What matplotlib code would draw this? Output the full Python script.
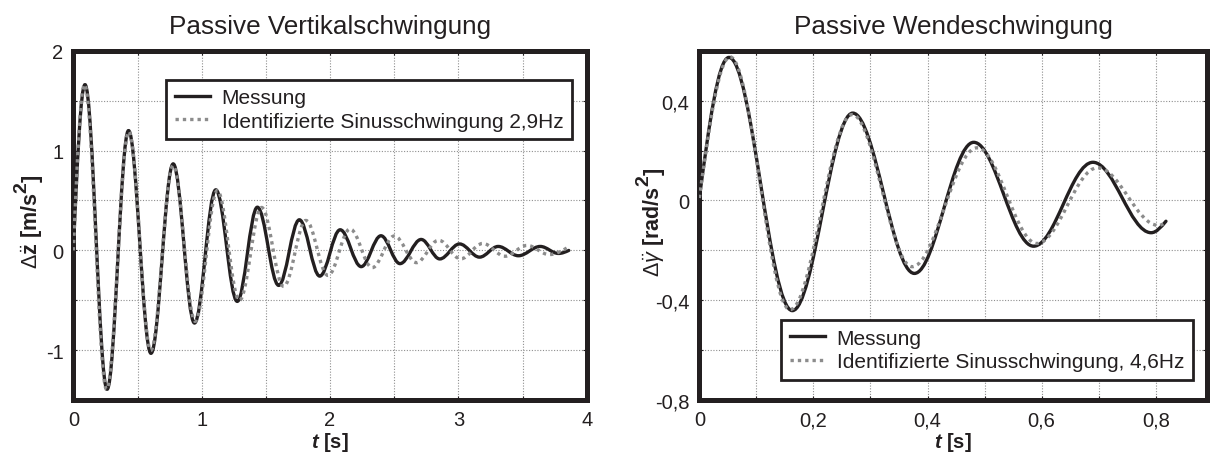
import matplotlib
matplotlib.use("Agg")
import matplotlib.pyplot as plt
from matplotlib.path import Path
from matplotlib.patches import PathPatch
from matplotlib.lines import Line2D
from matplotlib.text import Annotation
from matplotlib.ticker import MultipleLocator, FixedLocator, FuncFormatter

plt.rcParams['font.family'] = ['Liberation Sans', 'DejaVu Sans']
plt.rcParams['mathtext.fontset'] = 'custom'
plt.rcParams['mathtext.rm'] = 'Liberation Sans'
plt.rcParams['mathtext.it'] = 'Liberation Sans:italic'
plt.rcParams['mathtext.bf'] = 'Liberation Sans:bold'
plt.rcParams['mathtext.bfit'] = 'Liberation Sans:bold:italic'

INK = '#231f20'
DOT = '#8c8c8c'

# --- Passive Vertikalschwingung: turning points (t [s], value [m/s^2]) ---
vert_meas_t = [0.0, 0.091, 0.263, 0.430, 0.605, 0.778, 0.944, 1.110, 1.277, 1.434,
               1.600, 1.761, 1.920, 2.079, 2.243, 2.397, 2.545, 2.710, 2.855, 3.009,
               3.165, 3.310, 3.468, 3.638, 3.780, 3.860]
vert_meas_y = [0.0, 1.66, -1.39, 1.20, -1.03, 0.867, -0.727, 0.607, -0.51, 0.433,
               -0.35, 0.307, -0.257, 0.207, -0.162, 0.147, -0.132, 0.11, -0.085, 0.065,
               -0.067, 0.04, -0.053, 0.04, -0.03, 0.0]
vert_fit_t = [0.0, 0.088, 0.259, 0.432, 0.604, 0.777, 0.949, 1.122, 1.294, 1.467,
              1.639, 1.812, 1.984, 2.156, 2.329, 2.501, 2.673, 2.846, 3.018, 3.190,
              3.363, 3.535, 3.707, 3.858]
vert_fit_y = [0.0, 1.66, -1.39, 1.19, -1.0, 0.85, -0.71, 0.6, -0.5, 0.43,
              -0.36, 0.30, -0.25, 0.215, -0.172, 0.145, -0.122, 0.102, -0.084, 0.07,
              -0.058, 0.05, -0.041, 0.035]

# --- Passive Wendeschwingung: turning points (t [s], value [rad/s^2]) ---
wende_meas_t = [0.0, 0.052, 0.163, 0.269, 0.377, 0.481, 0.586, 0.690, 0.792, 0.818]
wende_meas_y = [0.01, 0.573, -0.441, 0.35, -0.292, 0.233, -0.183, 0.153, -0.129, -0.083]
wende_fit_t = [0.0, 0.054, 0.159, 0.268, 0.373, 0.487, 0.592, 0.698, 0.805, 0.816]
wende_fit_y = [0.01, 0.575, -0.437, 0.344, -0.265, 0.211, -0.172, 0.131, -0.1, -0.09]

vert_xticks = [0, 1, 2, 3, 4]
vert_yticks = [-1, 0, 1, 2]
wende_xticks = [0, 0.2, 0.4, 0.6, 0.8]
wende_yticks = [-0.8, -0.4, 0, 0.4]

label_meas = 'Messung'
label_vert_fit = 'Identifizierte Sinusschwingung 2,9Hz'
label_wende_fit = 'Identifizierte Sinusschwingung, 4,6Hz'


def swing_path(ts, ys):
    """Smooth path through turning points (flat tangent at every interior node)."""
    n = len(ts)
    slopes = [0.0] * n
    slopes[0] = (ys[1] - ys[0]) * 3.1416 / (2 * (ts[1] - ts[0]))
    slopes[-1] = 1.5 * (ys[-1] - ys[-2]) / (ts[-1] - ts[-2])
    verts = [(ts[0], ys[0])]
    codes = [Path.MOVETO]
    for i in range(n - 1):
        t0, y0, t1, y1 = ts[i], ys[i], ts[i + 1], ys[i + 1]
        dt = t1 - t0
        h0 = dt * (0.363 if slopes[i] == 0 else 1 / 3)
        h1 = dt * (0.363 if slopes[i + 1] == 0 else 1 / 3)
        verts += [(t0 + h0, y0 + slopes[i] * h0),
                  (t1 - h1, y1 - slopes[i + 1] * h1),
                  (t1, y1)]
        codes += [Path.CURVE4] * 3
    return Path(verts, codes)


def comma(v, pos=None):
    if abs(v) < 1e-9:
        return '0'
    return ('%g' % v).replace('.', ',')


fig = plt.figure(figsize=(12.12, 4.56), dpi=100)
ax1 = fig.add_axes([0.0605, 0.120, 0.4236, 0.7667])
ax2 = fig.add_axes([0.5770, 0.120, 0.4189, 0.7667])


def style(ax, xlim, ylim, xt, yt, xminor, yminor):
    ax.set_xlim(*xlim)
    ax.set_ylim(*ylim)
    ax.xaxis.set_major_locator(FixedLocator(xt))
    ax.yaxis.set_major_locator(FixedLocator(yt))
    ax.xaxis.set_minor_locator(MultipleLocator(xminor))
    ax.yaxis.set_minor_locator(MultipleLocator(yminor))
    ax.xaxis.set_major_formatter(FuncFormatter(comma))
    ax.yaxis.set_major_formatter(FuncFormatter(comma))
    ax.grid(True, which='both', linestyle=(0, (1, 1.5)), color='#8f8f8f', linewidth=0.8)
    ax.set_axisbelow(True)
    for sp in ax.spines.values():
        sp.set_linewidth(3.6)
        sp.set_color(INK)
    ax.tick_params(which='both', direction='in', length=3, width=0.8, colors=INK,
                   labelsize=14.5, top=True, right=True, pad=7)


style(ax1, (0, 4), (-1.5, 2), vert_xticks, vert_yticks, 0.5, 0.5)
style(ax2, (0, 0.89), (-0.8, 0.6), wende_xticks, wende_yticks, 0.1, 0.2)

for ax, mt, my, ft, fy in [(ax1, vert_meas_t, vert_meas_y, vert_fit_t, vert_fit_y),
                           (ax2, wende_meas_t, wende_meas_y, wende_fit_t, wende_fit_y)]:
    ax.add_patch(PathPatch(swing_path(mt, my), fill=False, edgecolor=INK,
                           linewidth=2.4, capstyle='round', joinstyle='round', zorder=3))
    ax.add_patch(PathPatch(swing_path(ft, fy), fill=False, edgecolor=DOT,
                           linewidth=2.4, linestyle=(0, (1, 1.2)), zorder=4))

ax1.set_title('Passive Vertikalschwingung', fontsize=18.8, pad=13, color=INK)
ax2.set_title('Passive Wendeschwingung', fontsize=18.8, pad=13, color=INK)

ax1.set_xlabel(r'$\mathbfit{t}$ [s]', fontsize=14.5, fontweight='bold', labelpad=1, color=INK)
ax2.set_xlabel(r'$\mathbfit{t}$ [s]', fontsize=14.5, fontweight='bold', labelpad=1, color=INK)


def unit_label(x_px, y_px, symbol, unit):
    """Rotated axis label with a full-height superscript '2'."""
    main = fig.text(x_px / 1212, 1 - y_px / 456, symbol + ' [' + unit + '/s',
                    rotation=90, ha='center', va='bottom', fontsize=15.5,
                    fontweight='bold', color=INK)
    sup = fig.add_artist(Annotation(
        '2', xy=(0.42, 1.0), xycoords=main, ha='right', va='bottom', rotation=90,
        fontsize=14, fontweight='bold', color=INK))
    fig.add_artist(Annotation(
        ']', xy=(0.5, 1.0), xycoords=(main, sup), ha='center', va='bottom',
        rotation=90, fontsize=15.5, fontweight='bold', color=INK))


unit_label(32, 269, r'$\Delta\ddot{\mathbf{z}}$', 'm')
unit_label(654, 277, r'$\Delta\ddot{\gamma}$', 'rad')

h_meas = Line2D([], [], color=INK, linewidth=2.4)
h_fit = Line2D([], [], color=DOT, linewidth=2.4, linestyle=(0, (1, 1.2)))

for ax, lbl, anchor in [(ax1, label_vert_fit, (166 / 1212, 1 - 80.6 / 456)),
                        (ax2, label_wende_fit, (781 / 1212, 1 - 321 / 456))]:
    leg = ax.legend([h_meas, h_fit], [label_meas, lbl], loc='upper left',
                    bbox_to_anchor=anchor, bbox_transform=fig.transFigure,
                    borderaxespad=0, fontsize=15, frameon=True, fancybox=False,
                    framealpha=1, edgecolor=INK, handlelength=1.7, handletextpad=0.55,
                    borderpad=0.42, labelspacing=0.2)
    leg.get_frame().set_linewidth(2.0)
    for t in leg.get_texts():
        t.set_color(INK)

fig.savefig('out.png', dpi=100)
